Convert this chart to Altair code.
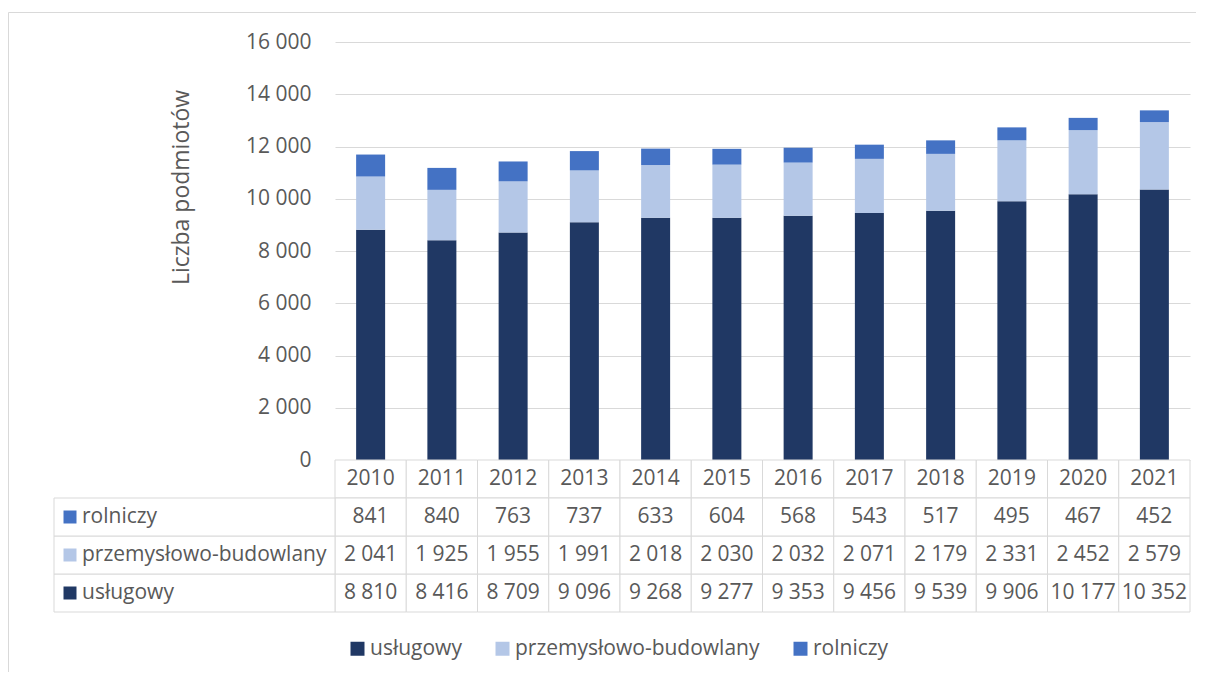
import altair as alt
import pandas as pd

years = ["2010", "2011", "2012", "2013", "2014", "2015", "2016", "2017", "2018", "2019", "2020", "2021"]
uslugowy = [8810, 8416, 8709, 9096, 9268, 9277, 9353, 9456, 9539, 9906, 10177, 10352]
przemyslowo = [2041, 1925, 1955, 1991, 2018, 2030, 2032, 2071, 2179, 2331, 2452, 2579]
rolniczy = [841, 840, 763, 737, 633, 604, 568, 543, 517, 495, 467, 452]
series = ["usługowy", "przemysłowo-budowlany", "rolniczy"]
colors = ["#203864", "#B4C7E7", "#4472C4"]
table_rows = ["header", "rolniczy", "przemysłowo-budowlany", "usługowy"]

FONT = "Open Sans"
TXT = "#595959"
LINE = "#D9D9D9"
FS = 21

def fmt(v):
    return f"{v:,}".replace(",", " ")

vals = {"usługowy": uslugowy, "przemysłowo-budowlany": przemyslowo, "rolniczy": rolniczy}
recs = []
for si, s in enumerate(series):
    for y, v in zip(years, vals[s]):
        recs.append({"year": y, "series": s, "value": v, "ord": si, "label": fmt(v)})
df = pd.DataFrame(recs)

cells = [{"year": y, "row": "header", "text": y} for y in years]
cells += [{"year": r["year"], "row": r["series"], "text": r["label"]} for r in recs]
cells_df = pd.DataFrame(cells)
labels_df = pd.DataFrame({"row": series, "series": series})

color_scale = alt.Scale(domain=series, range=colors)
x_enc = alt.X("year:N", sort=years, axis=None, scale=alt.Scale(paddingInner=0, paddingOuter=0))

bars = alt.Chart(df).mark_bar(size=29).encode(
    x=x_enc,
    y=alt.Y("value:Q", stack="zero",
            scale=alt.Scale(domain=[0, 16000]),
            axis=alt.Axis(values=list(range(0, 16001, 2000)),
                          labelExpr="replace(format(datum.value, ',d'), ',', ' ')",
                          title="Liczba podmiotów", titleFontSize=23, titleFontWeight="normal",
                          titleColor=TXT, titleFont=FONT, titlePadding=52, titleY=145,
                          labelFont=FONT, labelFontSize=FS, labelColor=TXT, labelPadding=24,
                          domain=False, ticks=False, gridColor=LINE, gridWidth=1)),
    color=alt.Color("series:N", scale=color_scale, legend=None),
    order=alt.Order("ord:Q"),
)

frame_df = pd.DataFrame({"k": [0]})
frame_left = alt.Chart(frame_df).mark_rule(color=LINE, strokeWidth=1).encode(
    x=alt.value(-326.5), y=alt.value(-29.5), y2=alt.value(630))
frame_top = alt.Chart(frame_df).mark_rule(color=LINE, strokeWidth=1).encode(
    x=alt.value(-326.5), x2=alt.value(861), y=alt.value(-29.5))

top = alt.layer(bars, frame_left, frame_top).properties(width=855, height=418)

y_tab = alt.Y("row:N", sort=table_rows, axis=None, scale=alt.Scale(domain=table_rows, paddingInner=0, paddingOuter=0))

cell_rects = alt.Chart(cells_df).mark_rect(fill="white", stroke=LINE, strokeWidth=1).encode(
    x=x_enc, y=y_tab)
cell_text = alt.Chart(cells_df).mark_text(font=FONT, fontSize=FS, color=TXT).encode(
    x=x_enc, y=y_tab, text="text:N")
label_rects = alt.Chart(labels_df).mark_rect(fill="white", stroke=LINE, strokeWidth=1).encode(
    x=alt.value(-281), x2=alt.value(0), y=y_tab)
squares = alt.Chart(labels_df).mark_point(shape="square", filled=True, size=169, opacity=1).encode(
    x=alt.value(-265), y=y_tab,
    color=alt.Color("series:N", scale=color_scale,
                    legend=alt.Legend(orient="none", legendX=12, legendY=178, direction="horizontal",
                                      title=None, symbolType="square", symbolSize=196,
                                      symbolStrokeWidth=0, symbolOpacity=1,
                                      labelFont=FONT, labelFontSize=FS, labelColor=TXT,
                                      labelLimit=500, columnPadding=30, labelOffset=2)))
label_text = alt.Chart(labels_df).mark_text(font=FONT, fontSize=FS, color=TXT, align="left").encode(
    x=alt.value(-253), y=y_tab, text="row:N")

table = alt.layer(cell_rects, cell_text, label_rects, squares, label_text).properties(width=855, height=152)

chart = alt.vconcat(top, table, spacing=0, bounds="flush").resolve_scale(
    color="independent", x="shared").resolve_legend(color="independent").properties(
    padding={"left": 0, "top": 4, "right": 0, "bottom": 0}
).configure(font=FONT).configure_view(stroke=None)

chart.save("out.html", embed_options={"renderer": "svg", "actions": False})
